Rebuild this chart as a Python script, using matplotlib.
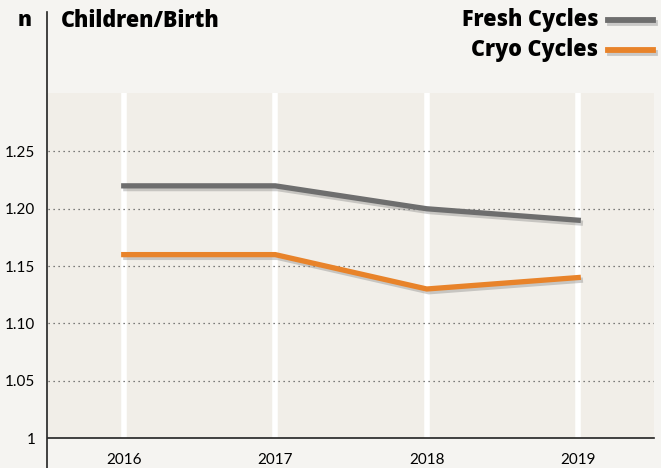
import matplotlib.pyplot as plt
import matplotlib.patheffects as pe
from matplotlib.lines import Line2D

years = ["2016", "2017", "2018", "2019"]
fresh = [1.22, 1.22, 1.20, 1.19]
cryo = [1.16, 1.16, 1.13, 1.14]
yticks = [1.0, 1.05, 1.10, 1.15, 1.20, 1.25]
ytick_labels = ["1", "1.05", "1.10", "1.15", "1.20", "1.25"]

GREY = "#6e6e6e"
ORANGE = "#e8832a"
plt.rcParams["font.family"] = ["Lato", "DejaVu Sans"]
HEAD = ["Open Sans", "DejaVu Sans"]

W, H = 661, 468
fig = plt.figure(figsize=(W / 100, H / 100), dpi=100, facecolor="#f5f4f1")
ax = fig.add_axes([48 / W, (H - 438) / H, 606 / W, 345 / H])
ax.set_facecolor("#f1eee8")

x = list(range(len(years)))
ax.set_xlim(-0.5, 3.5)
ax.set_ylim(1.0, 1.301)

for xi in x:
    ax.axvline(xi, color="white", lw=4, zorder=1)
for yv in yticks[1:]:
    ax.axhline(yv, color="#555555", lw=0.9, ls=(0, (1, 3)), zorder=1.5)

shadow = [pe.SimpleLineShadow(offset=(1.5, -2), shadow_color="#888888", alpha=0.4), pe.Normal()]
ax.plot(x, fresh, color=GREY, lw=3.8, zorder=3, path_effects=shadow)
ax.plot(x, cryo, color=ORANGE, lw=3.8, zorder=3, path_effects=shadow)

ax.set_xticks(x)
ax.set_xticklabels(years, fontsize=11)
ax.set_yticks(yticks)
ax.set_yticklabels(ytick_labels, fontsize=11)
ax.tick_params(length=0)
ax.tick_params(axis="x", pad=11)
ax.tick_params(axis="y", pad=9)
for s in ["top", "right", "left"]:
    ax.spines[s].set_visible(False)
ax.spines["bottom"].set_color("#222222")
ax.spines["bottom"].set_linewidth(1.2)

# left axis line extends above the plot area
fig.add_artist(Line2D([47.5 / W, 47.5 / W], [0, 1 - 12 / H], color="#222222", lw=1.2))

fig.text(18 / W, 1 - 21 / H, "n", fontsize=15, fontweight="heavy", va="center", family=HEAD)
fig.text(61 / W, 1 - 21 / H, "Children/Birth", fontsize=15.5, fontweight="heavy", va="center", family=HEAD)

fig.text(598 / W, 1 - 20 / H, "Fresh Cycles", fontsize=15.5, fontweight="heavy", va="center", ha="right", family=HEAD)
fig.text(598 / W, 1 - 50 / H, "Cryo Cycles", fontsize=15.5, fontweight="heavy", va="center", ha="right", family=HEAD)
for yy, col in [(20, GREY), (50, ORANGE)]:
    fig.add_artist(Line2D([608 / W, 653 / W], [1 - yy / H, 1 - yy / H], color=col, lw=4.2,
                          path_effects=shadow))

fig.savefig("out.png", dpi=100, facecolor=fig.get_facecolor())
